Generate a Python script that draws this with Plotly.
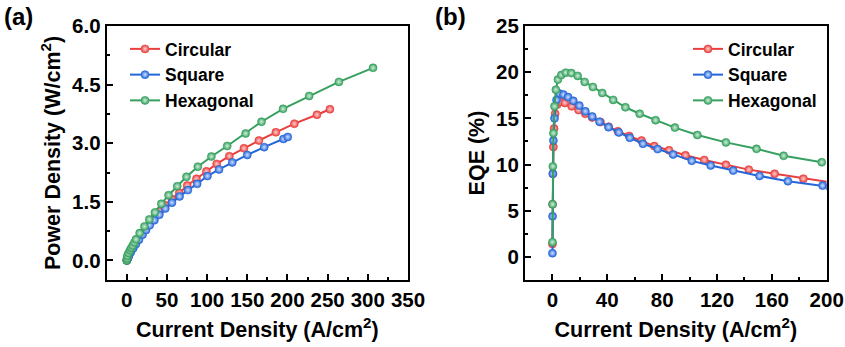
import plotly.graph_objects as go

# ---------------- data ----------------
series_names = ["Circular", "Square", "Hexagonal"]
series_colors = ["#E8403F", "#2566D8", "#36A05E"]
center_colors = ["#FFD0D0", "#D0E0FF", "#D0F0DC"]

# Panel (a): power density vs current density
circ_pd_j = [0.05, 0.3, 1.0, 2.5, 5.0, 9.0, 14.0, 19.0, 24.0, 29.0, 35.0, 41.0, 48.0, 56.0,
             65.3, 75.2, 86.7, 99.1, 111.9, 127.6, 145.8, 164.4, 185.5, 208.6, 236.7, 252.8]
circ_pd = [0.0, 0.02, 0.06, 0.13, 0.24, 0.38, 0.55, 0.70, 0.85, 0.98, 1.12, 1.26, 1.41, 1.57,
           1.73, 1.92, 2.09, 2.28, 2.47, 2.67, 2.87, 3.07, 3.28, 3.50, 3.73, 3.87]

sq_pd_j = [0.05, 0.3, 1.0, 2.5, 5.0, 8.0, 11.4, 15.2, 19.6, 24.0, 28.5, 34.3, 40.5, 47.9, 56.2,
           65.7, 76.0, 87.6, 100.4, 114.8, 131.3, 150.0, 171.0, 195.0, 200.3]
sq_pd = [0.0, 0.01, 0.05, 0.11, 0.21, 0.31, 0.42, 0.53, 0.66, 0.78, 0.90, 1.03, 1.17, 1.33, 1.48,
         1.64, 1.80, 1.96, 2.16, 2.33, 2.51, 2.70, 2.90, 3.11, 3.16]

hex_pd_j = [0.0, 0.3, 0.8, 2.2, 4.1, 5.6, 7.4, 9.5, 11.5, 16.0, 22.0, 28.0, 35.0, 43.0, 52.0,
            62.8, 74.3, 88.4, 105.3, 125.0, 147.9, 167.7, 194.5, 227.0, 264.0, 306.5]
hex_pd = [0.0, 0.05, 0.12, 0.19, 0.26, 0.32, 0.38, 0.46, 0.54, 0.70, 0.87, 1.05, 1.23, 1.45, 1.67,
          1.90, 2.14, 2.40, 2.66, 2.93, 3.25, 3.55, 3.88, 4.21, 4.57, 4.93]

# Panel (b): EQE vs current density
circ_eqe_j = [0.02, 0.1, 0.3, 0.7, 1.2, 2.0, 3.5, 6.0, 9.0, 14.0, 19.0, 24.0, 29.0, 35.0, 41.0,
              47.7, 56.0, 65.0, 74.3, 85.0, 97.0, 110.7, 126.5, 143.2, 162.0, 183.0, 208.0]
circ_eqe = [1.4, 5.7, 9.0, 11.9, 13.9, 15.5, 16.5, 16.8, 16.67, 16.3, 15.9, 15.5, 15.1, 14.6, 14.1,
            13.6, 13.1, 12.6, 12.0, 11.55, 11.0, 10.5, 9.98, 9.45, 9.0, 8.47, 7.95]

sq_eqe_j = [0.02, 0.1, 0.3, 0.7, 1.5, 3.0, 5.0, 8.0, 11.4, 15.2, 19.6, 24.0, 29.0, 34.3, 40.9,
            48.4, 56.4, 66.0, 76.7, 88.0, 101.6, 115.4, 131.8, 151.0, 171.7, 197.0, 202.0]
sq_eqe = [0.4, 4.4, 9.0, 12.6, 15.0, 17.0, 17.7, 17.58, 17.3, 16.9, 16.38, 15.76, 15.2, 14.64, 14.05,
          13.48, 12.9, 12.25, 11.67, 11.09, 10.4, 9.9, 9.35, 8.77, 8.2, 7.72, 7.6]

hex_eqe_j = [0.02, 0.1, 0.3, 0.7, 1.5, 2.5, 4.0, 6.5, 9.7, 13.8, 18.4, 23.5, 29.5, 36.3, 44.3,
             53.2, 63.6, 75.2, 89.3, 105.7, 126.5, 148.8, 168.6, 196.4]
hex_eqe = [1.6, 5.7, 9.8, 13.4, 16.3, 18.1, 19.2, 19.7, 19.95, 19.9, 19.6, 18.95, 18.4, 17.75, 17.0,
           16.2, 15.5, 14.8, 14.0, 13.2, 12.4, 11.7, 10.95, 10.25]

pd_x = [circ_pd_j, sq_pd_j, hex_pd_j]
pd_y = [circ_pd, sq_pd, hex_pd]
eqe_x = [circ_eqe_j, sq_eqe_j, hex_eqe_j]
eqe_y = [circ_eqe, sq_eqe, hex_eqe]

# ---------------- figure ----------------
FONT = "Liberation Sans, Arial, sans-serif"
fig = go.Figure()

for i, name in enumerate(series_names):
    marker = dict(size=8, color=series_colors[i],
                  gradient=dict(type="radial", color=center_colors[i]),
                  line=dict(width=0.6, color=series_colors[i]))
    fig.add_trace(go.Scatter(x=pd_x[i], y=pd_y[i], mode="lines+markers", name=name,
                             line=dict(color=series_colors[i], width=2), marker=marker,
                             xaxis="x", yaxis="y", legend="legend"))
for i, name in enumerate(series_names):
    marker = dict(size=8, color=series_colors[i],
                  gradient=dict(type="radial", color=center_colors[i]),
                  line=dict(width=0.6, color=series_colors[i]))
    fig.add_trace(go.Scatter(x=eqe_x[i], y=eqe_y[i], mode="lines+markers", name=name,
                             line=dict(color=series_colors[i], width=2), marker=marker,
                             xaxis="x2", yaxis="y2", legend="legend2"))

W, H = 845, 347
ydom = [1 - 280 / H, 1 - 26 / H]

tickfont = dict(family=FONT, size=20.5, color="black", weight="bold")
titlefont = dict(family=FONT, size=21.5, color="black", weight="bold")

def axis_common():
    return dict(showline=True, linecolor="black", linewidth=2, mirror=True, automargin=False,
                ticks="inside", ticklen=6, tickwidth=1.5, tickcolor="black",
                showgrid=False, zeroline=False, tickfont=tickfont,
                minor=dict(ticks="inside", ticklen=3, tickwidth=1.5, tickcolor="black", showgrid=False))

xa = axis_common()
xa.update(domain=[106.7 / W, 408 / W], range=[-25, 350], tick0=0, dtick=50, anchor="y",
          title=dict(text="Current Density (A/cm<sup>2</sup>)", font=titlefont, standoff=12))
xa["minor"]["dtick"] = 25
ya = axis_common()
ya.update(domain=ydom, range=[-0.5, 6.0], tick0=0, dtick=1.5, tickformat=".1f", anchor="x",
          title=dict(text="Power Density (W/cm<sup>2</sup>)", font=titlefont, standoff=6))
ya["minor"]["dtick"] = 0.75
xb = axis_common()
xb.update(domain=[525 / W, 826.7 / W], range=[-20, 200], tick0=0, dtick=40, anchor="y2",
          title=dict(text="Current Density (A/cm<sup>2</sup>)", font=titlefont, standoff=12))
xb["minor"]["dtick"] = 20
yb = axis_common()
yb.update(domain=ydom, range=[-2.5, 25], tick0=0, dtick=5, anchor="x2",
          title=dict(text="EQE (%)", font=titlefont, standoff=6))
yb["minor"]["dtick"] = 2.5

legfont = dict(family=FONT, size=17.5, color="black", weight="bold")
fig.update_layout(
    width=W, height=H, margin=dict(l=0, r=0, t=0, b=0),
    paper_bgcolor="white", plot_bgcolor="white",
    xaxis=xa, yaxis=ya, xaxis2=xb, yaxis2=yb,
    legend=dict(x=125 / W, y=1 - 31 / H, xanchor="left", yanchor="top",
                bgcolor="rgba(0,0,0,0)", font=legfont, tracegroupgap=0),
    legend2=dict(x=688 / W, y=1 - 31 / H, xanchor="left", yanchor="top",
                 bgcolor="rgba(0,0,0,0)", font=legfont, tracegroupgap=0),
    annotations=[
        dict(text="(a)", x=18 / W, y=1 - 17 / H, xref="paper", yref="paper", showarrow=False,
             xanchor="center", yanchor="middle",
             font=dict(family=FONT, size=24, color="black", weight="bold")),
        dict(text="(b)", x=450 / W, y=1 - 17 / H, xref="paper", yref="paper", showarrow=False,
             xanchor="center", yanchor="middle",
             font=dict(family=FONT, size=24, color="black", weight="bold")),
    ],
)

fig.write_html("out.html")
